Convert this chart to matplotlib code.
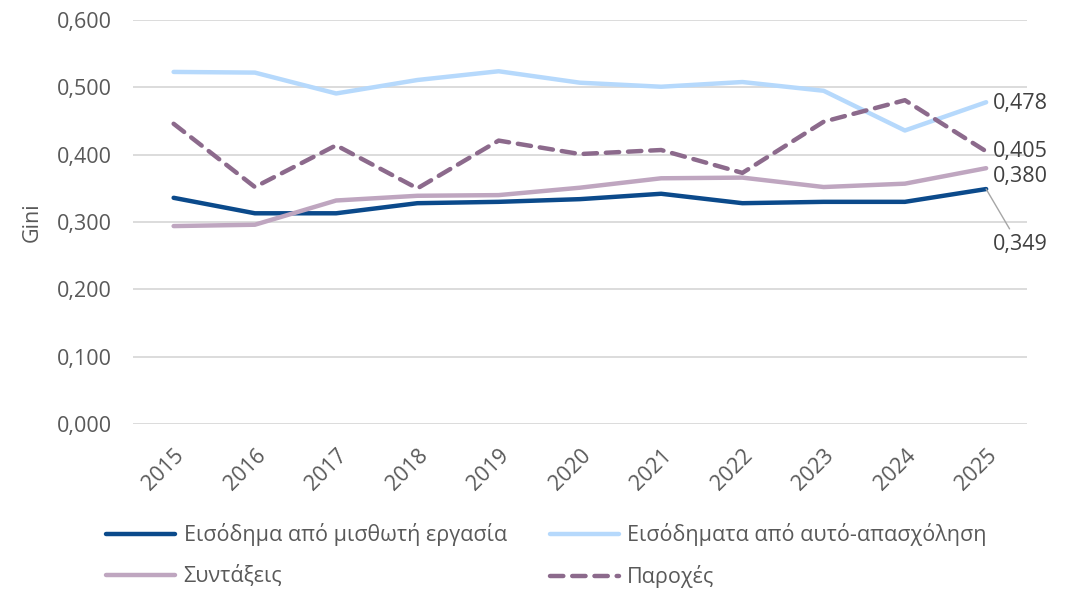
import matplotlib.pyplot as plt
from matplotlib.ticker import FuncFormatter

plt.rcParams['font.family'] = ['Open Sans', 'DejaVu Sans']

years = ['2015', '2016', '2017', '2018', '2019', '2020', '2021', '2022', '2023', '2024', '2025']
wages = [0.336, 0.313, 0.313, 0.328, 0.330, 0.334, 0.342, 0.328, 0.330, 0.330, 0.349]
self_emp = [0.523, 0.522, 0.491, 0.511, 0.524, 0.507, 0.501, 0.508, 0.495, 0.436, 0.478]
pensions = [0.294, 0.296, 0.332, 0.339, 0.340, 0.351, 0.365, 0.366, 0.352, 0.357, 0.380]
benefits = [0.446, 0.352, 0.414, 0.350, 0.421, 0.401, 0.407, 0.373, 0.449, 0.481, 0.405]

labels = ['Εισόδημα από μισθωτή εργασία', 'Εισόδηματα από αυτό-απασχόληση',
          'Συντάξεις', 'Παροχές']
colors = ['#0B4A8B', '#B6D9FC', '#BFA6C0', '#8C6A8C']

txt = '#595959'
fs = 15.5
fig = plt.figure(figsize=(10.84, 5.91), dpi=100)
ax = fig.add_axes([0.1227, 0.2826, 0.8245, 0.6834])

x = range(len(years))
l1, = ax.plot(x, wages, color=colors[0], lw=3.2, label=labels[0], solid_capstyle='round')
l2, = ax.plot(x, self_emp, color=colors[1], lw=3.2, label=labels[1], solid_capstyle='round')
l3, = ax.plot(x, pensions, color=colors[2], lw=3.2, label=labels[2], solid_capstyle='round')
l4, = ax.plot(x, benefits, color=colors[3], lw=3.2, label=labels[3], ls=(0, (3, 2)),
              dash_capstyle='round')

ax.set_xlim(-0.5, len(years) - 0.5)
ax.set_ylim(0, 0.6)
ax.set_yticks([0, 0.1, 0.2, 0.3, 0.4, 0.5, 0.6])
ax.yaxis.set_major_formatter(FuncFormatter(lambda v, p: f'{v:.3f}'.replace('.', ',')))
ax.set_xticks(list(x))
ax.set_xticklabels(years, rotation=45, ha='right', va='top', rotation_mode='anchor')
ax.tick_params(length=0, labelsize=fs, colors=txt)
ax.tick_params(axis='y', pad=15)
ax.tick_params(axis='x', pad=15)
ax.grid(axis='y', color='#D9D9D9', lw=1.3)
ax.set_axisbelow(True)
for s in ax.spines.values():
    s.set_visible(False)
ax.set_ylabel('Gini', fontsize=fs, color=txt, labelpad=10)

def fmt(v):
    return f'{v:.3f}'.replace('.', ',')

last = len(years) - 1
dark = '#404040'
ax.annotate(fmt(self_emp[-1]), (last, self_emp[-1]), xytext=(5, -1), textcoords='offset points',
            va='center', ha='left', fontsize=fs, color=dark)
ax.annotate(fmt(benefits[-1]), (last, benefits[-1]), xytext=(5, 0), textcoords='offset points',
            va='center', ha='left', fontsize=fs, color=dark)
ax.annotate(fmt(pensions[-1]), (last, pensions[-1]), xytext=(5, -6), textcoords='offset points',
            va='center', ha='left', fontsize=fs, color=dark)
ax.annotate(fmt(wages[-1]), (last, wages[-1]), xytext=(5, -40), textcoords='offset points',
            va='center', ha='left', fontsize=fs, color=dark,
            arrowprops=dict(arrowstyle='-', color='#A6A6A6', lw=1,
                            shrinkA=0, shrinkB=0, relpos=(0.3, 1.25)))

fig.legend([l1, l3, l2, l4], [labels[0], labels[2], labels[1], labels[3]],
           loc='upper left', bbox_to_anchor=(0.088, 0.133), ncol=2, frameon=False,
           fontsize=fs, labelcolor=txt, handlelength=3.2, handletextpad=0.4,
           columnspacing=2.0, labelspacing=0.88, borderpad=0)

fig.savefig('out.png', dpi=100)
